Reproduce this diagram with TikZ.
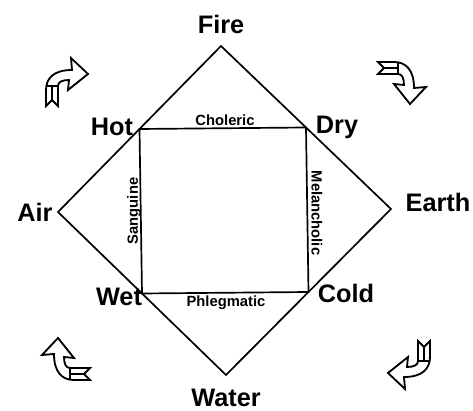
\documentclass[tikz,border=0pt]{standalone}
\usepackage{fontspec}
\setmainfont{Liberation Sans}
\usetikzlibrary{calc}
\tikzset{
  element/.style={font=\fontsize{18}{20}\selectfont\bfseries},
  humour/.style={font=\fontsize{10.5}{12}\selectfont\bfseries},
  turnarrow/.pic={
    \draw[line width=1.3pt, fill=white] (-20,22) -- (-14,16) -- (-8,22) -- (-8,2)
      .. controls (-8,-2) and (-4,-4) .. (3,-4) -- (2,6) -- (22,-10) -- (5,-26) -- (6,-14)
      .. controls (-12,-14) and (-20,-6) .. (-20,6) -- cycle;
    \draw[line width=1.3pt] (-20,2) -- (-8,2) (-14,2) -- (-14,16); % fold of the ribbon
  }
}
\begin{document}
\begin{tikzpicture}[x=0.025cm, y=-0.025cm, line width=1.2pt]
  \useasboundingbox (0,0) rectangle (473,411);
  % corners of the diamond
  \coordinate (fire) at (221,46);
  \coordinate (earth) at (391,209);
  \coordinate (water) at (226,375);
  \coordinate (air) at (58,212);
  \draw (fire) -- (earth) -- (water) -- (air) -- cycle;
  % the square sits on the midpoints of the diamond
  \coordinate (hot) at ($(air)!0.5!(fire)$);
  \coordinate (dry) at ($(fire)!0.5!(earth)$);
  \coordinate (cold) at ($(earth)!0.5!(water)$);
  \coordinate (wet) at ($(water)!0.5!(air)$);
  \draw (hot) -- (dry) -- (cold) -- (wet) -- cycle;
  % elements and qualities
  \node[element] (firelbl) at (221,24) {Fire};
  \node[element] (airlbl) at (35,212) {Air};
  \node[element] (earthlbl) at (438,202) {Earth};
  \node[element] (waterlbl) at (226,398) {Water};
  \node[element] (hotlbl) at (112,127) {Hot};
  \node[element] (drylbl) at (337,127) {Dry};
  \node[element] (wetlbl) at (119,297) {Wet};
  \node[element] (coldlbl) at (346,293) {Cold};
  % humours along the square
  \node[humour] (choleric) at (225,120) {Choleric};
  \node[humour, rotate=90] (sanguine) at (134,211) {Sanguine};
  \node[humour, rotate=-90] (melancholic) at (317,213) {Melancholic};
  \node[humour] (phlegmatic) at (226,303) {Phlegmatic};
  % turning arrows
  \pic at (66,84) {turnarrow};
  \pic[rotate=-90] at (400,82) {turnarrow};
  \pic[rotate=180] at (410,363) {turnarrow};
  \pic[rotate=90] at (68,360) {turnarrow};
\end{tikzpicture}
\end{document}
